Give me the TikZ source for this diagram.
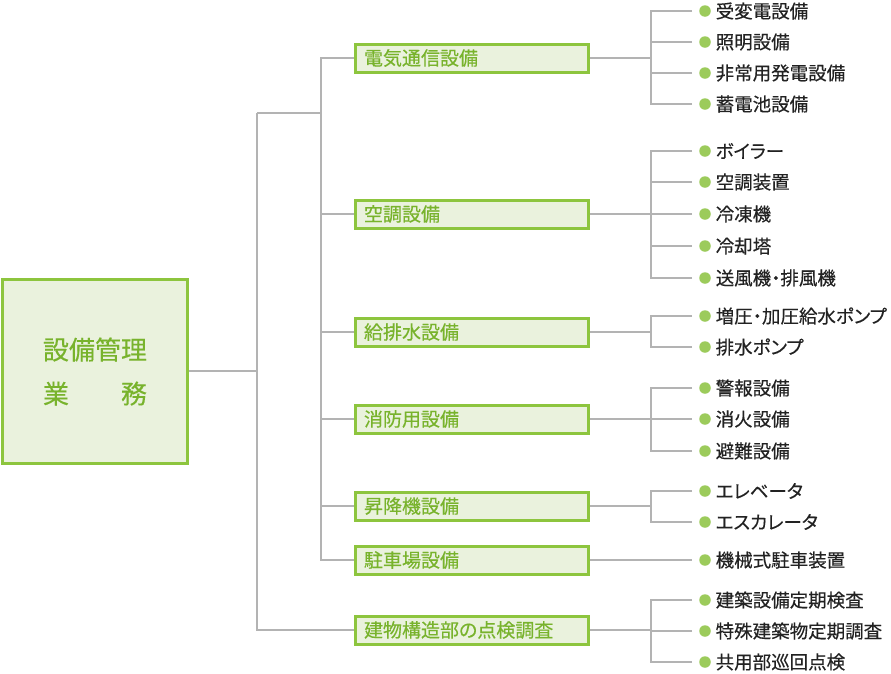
\documentclass[tikz,border=0pt]{standalone}
\usepackage{fontspec}
\setmainfont{Noto Sans CJK JP}[RawFeature=+palt, FakeBold=0.35]
\newfontfamily\rootfont{Noto Sans CJK JP}[FakeBold=0.35]
\definecolor{gbord}{HTML}{8DC53E}
\definecolor{gfill}{HTML}{EAF2DD}
\definecolor{gtext}{HTML}{78B32C}
\definecolor{gbul}{HTML}{9CCB5B}
\definecolor{gline}{HTML}{B3B3B3}
\definecolor{itext}{HTML}{222222}
\tikzset{
  rootbox/.style={draw=gbord, fill=gfill, line width=3pt, minimum width=185pt, minimum height=184pt,
    text=gtext, align=center, font=\rootfont\fontsize{26}{44}\selectfont, inner sep=0pt},
  midbox/.style={draw=gbord, fill=gfill, line width=3pt, anchor=west, text width=216pt, inner xsep=8.5pt,
    minimum height=28pt, inner ysep=0pt, align=left, text=gtext, font=\fontsize{19}{19}\selectfont},
  bul/.style={circle, fill=gbul, inner sep=0pt, minimum size=11.5pt},
  itemtxt/.style={anchor=west, inner sep=0pt, text=itext, font=\fontsize{18.5}{18.5}\selectfont},
  conn/.style={draw=gline, line width=1.3pt},
}
\newcommand{\myitm}[3]{%
  \node[bul] (d#1) at (705,#2) {};
  \node[itemtxt] (t#1) at (715.5,#2) {#3};
}
\begin{document}
\begin{tikzpicture}[x=1pt,y=-1pt]
\useasboundingbox (0,0) rectangle (891,673);
% root
\node[rootbox] (root) at (95,371.5) {設備管理\\\makebox[4em]{業\hfill 務}};
% middle boxes
\node[midbox] (b1) at (354,58) {電気通信設備};
\node[midbox] (b2) at (354,214) {空調設備};
\node[midbox] (b3) at (354,332) {給排水設備};
\node[midbox] (b4) at (354,419) {消防用設備};
\node[midbox] (b5) at (354,506) {昇降機設備};
\node[midbox] (b6) at (354,560) {駐車場設備};
\node[midbox] (b7) at (354,630) {建物構造部の点検調査};
% trunk
\coordinate (ja) at (257,371);
\coordinate (jt) at (257,113);
\coordinate (jv) at (321,113);
\draw[conn] (root.east |- ja) -- (ja);
\draw[conn] (jt) -- (jv);
\draw[conn] (jt) |- (b7.west);
\draw[conn] (b1.west) -| (jv) |- (b6.west);
\foreach \b in {b2,b3,b4,b5}{
  \draw[conn] (\b.west) -- (jv |- \b.west);
}
% items
\myitm{11}{11}{受変電設備}
\myitm{12}{42}{照明設備}
\myitm{13}{73}{非常用発電設備}
\myitm{14}{104}{蓄電池設備}
\myitm{21}{151}{ボイラー}
\myitm{22}{182}{空調装置}
\myitm{23}{214}{冷凍機}
\myitm{24}{246}{冷却塔}
\myitm{25}{278}{送風機・排風機}
\myitm{31}{316}{増圧・加圧給水ポンプ}
\myitm{32}{347}{排水ポンプ}
\myitm{41}{388}{警報設備}
\myitm{42}{419}{消火設備}
\myitm{43}{451}{避難設備}
\myitm{51}{491}{エレベータ}
\myitm{52}{522}{エスカレータ}
\myitm{61}{560}{機械式駐車装置}
\myitm{71}{600}{建築設備定期検査}
\myitm{72}{631}{特殊建築物定期調査}
\myitm{73}{662}{共用部巡回点検}
% item brackets
\coordinate (k1) at (651,58);
\coordinate (k2) at (651,214);
\coordinate (k3) at (651,332);
\coordinate (k4) at (651,419);
\coordinate (k5) at (651,506);
\coordinate (k7) at (651,630);
\draw[conn] (b1.east) -- (k1);
\draw[conn] (b2.east) -- (k2);
\draw[conn] (b3.east) -- (k3);
\draw[conn] (b4.east) -- (k4);
\draw[conn] (b5.east) -- (k5);
\draw[conn] (b7.east) -- (k7);
\foreach \i in {11,12,13,14}{\draw[conn] ([xshift=-7pt]d\i.west) -| (k1);}
\foreach \i in {21,22,23,24,25}{\draw[conn] ([xshift=-7pt]d\i.west) -| (k2);}
\foreach \i in {31,32}{\draw[conn] ([xshift=-7pt]d\i.west) -| (k3);}
\foreach \i in {41,42,43}{\draw[conn] ([xshift=-7pt]d\i.west) -| (k4);}
\foreach \i in {51,52}{\draw[conn] ([xshift=-7pt]d\i.west) -| (k5);}
\foreach \i in {71,72,73}{\draw[conn] ([xshift=-7pt]d\i.west) -| (k7);}
\draw[conn] (b6.east) -- ([xshift=-7pt]d61.west);
\end{tikzpicture}
\end{document}
